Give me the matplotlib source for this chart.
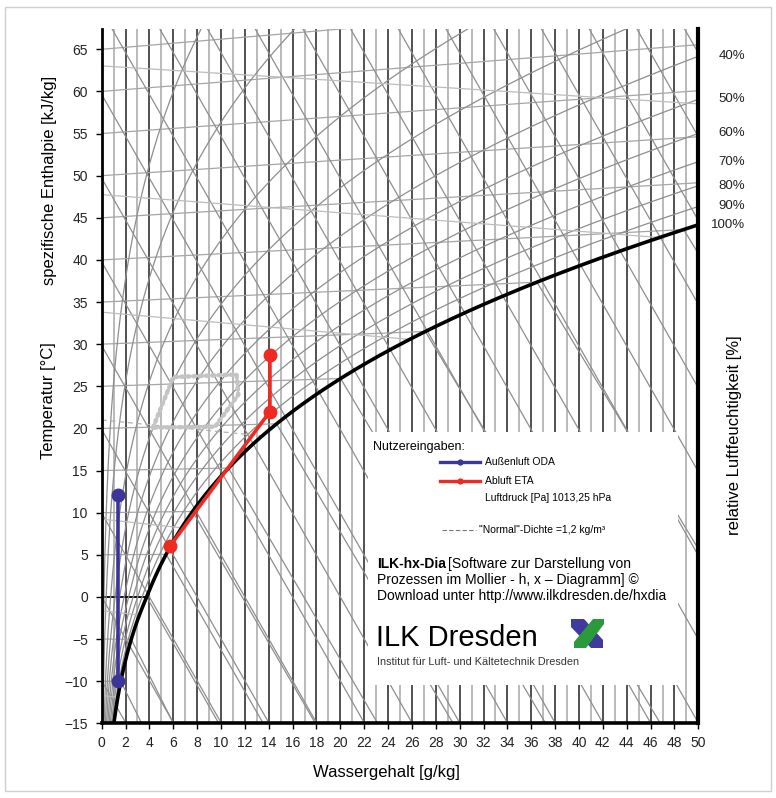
import numpy as np
import matplotlib.pyplot as plt
from matplotlib.patches import Rectangle, Polygon

plt.rcParams['font.family'] = ['Liberation Sans', 'DejaVu Sans']

W, H = 776, 798          # picture size in pixels

#####################
#### Chart data #####
#####################

x_grid = np.arange(0, 51, 1)                 # Wassergehalt lines [g/kg]
x_ticks = np.arange(0, 51, 2)
y_ticks = np.arange(-15, 66, 5)
isotherms = np.arange(-15, 70, 5)            # [°C]
enthalpies = np.arange(-10, 200, 10)         # [kJ/kg]
rh_levels = [0.05, 0.1, 0.2, 0.3, 0.4, 0.5, 0.6, 0.7, 0.8, 0.9]
rh_label_levels = [0.4, 0.5, 0.6, 0.7, 0.8, 0.9, 1.0]
rh_labels = ['40%', '50%', '60%', '70%', '80%', '90%', '100%']
densities = [1.05, 1.10, 1.15, 1.25, 1.30, 1.35]   # [kg/m³]
normal_density = 1.2

# Nutzereingaben
oda_x = [1.4, 1.4]
oda_y = [-10.0, 12.1]
eta_x = [5.7, 14.1, 14.1]
eta_y = [6.0, 22.0, 28.7]
comfort_x = [4.3, 6.0, 11.3, 11.45, 9.5, 4.3]
comfort_y = [20.1, 26.1, 26.4, 24.0, 20.2, 20.1]

###################
#### Functions ####
###################

P = 101325.0

def p_sat(t):
    t = np.asarray(t, float)
    return np.where(t >= 0, 611.2*np.exp(17.62*t/(243.12+t)),
                    611.2*np.exp(22.46*t/(272.62+t)))

def x_of(t, phi):                       # g/kg
    pv = phi*p_sat(t)
    return 622.0*pv/(P - pv)

def y_of(t, x):                         # skewed Mollier ordinate
    return t*(1 + 1.86*np.asarray(x)/1000/1.006)

def y_of_h(h, x):
    return (h - 2.501*np.asarray(x))/1.006

def rh_curve(phi):
    ts = np.linspace(-30, 95, 1500)
    ts = ts[phi*p_sat(ts) < 0.6*P]
    xr = x_of(ts, phi)
    return xr, y_of(ts, xr)

def fig_xy(xp, yp):                     # pixel -> figure fraction
    return xp/W, 1 - yp/H

######################
#### Main Program ####
######################

fig = plt.figure(figsize=(W/100, H/100), dpi=100)
ax = fig.add_axes([101.7/W, 1 - 723.3/H, (698.3-101.7)/W, (723.3-29)/H])
ax.set_xlim(0, 50)
ax.set_ylim(-15, 65 + (49.3-29)/8.425)

# vertical water content lines
for xv in x_grid:
    if xv % 2 == 0:
        ax.axvline(xv, color='#3c3c3c', lw=1.25, zorder=1)
    else:
        ax.axvline(xv, color='#b4b4b4', lw=1.3, zorder=1)

xs = np.linspace(0, 50, 600)
grey = '#8e8e8e'

# isotherms (unsaturated part) and fog isotherms
for t in isotherms:
    xsat = float(x_of(t, 1.0))
    xi = xs[xs <= xsat]
    col, lw = ('#111111', 1.4) if t == 0 else ('#a6a6a6', 0.9)
    ax.plot(xi, y_of(t, xi), color=col, lw=lw, zorder=2)
    if xsat < 50:
        hs = 1.006*t + xsat/1000*(2501 + 1.86*t)
        slope = 4.19*t if t >= 0 else (-333.5 + 2.05*t)
        xf = np.array([xsat, 50.0])
        hf = hs + (xf - xsat)/1000*slope
        ax.plot(xf, y_of_h(hf, xf), color=grey, lw=0.9, zorder=2)

# enthalpy lines
for h in enthalpies:
    ax.plot([0, 50], y_of_h(h, np.array([0, 50])), color=grey, lw=0.9, zorder=2)

# relative humidity lines
for phi in rh_levels:
    xr, yr = rh_curve(phi)
    ax.plot(xr, yr, color=grey, lw=0.9, zorder=2)

# density lines
def density_line(rho):
    T = P/(287.05*rho)*(1 + xs/1000)/(1 + 1.608*xs/1000)
    t = T - 273.15
    yd = y_of(t, xs)
    return np.where(xs <= x_of(t, 1.0), yd, np.nan)

for rho in densities:
    ax.plot(xs, density_line(rho), color='#bdbdbd', lw=0.9, zorder=2)
ax.plot(xs, density_line(normal_density), color='#b0b0b0', lw=0.9,
        ls=(0, (4, 3)), zorder=2)

# saturation curve
xsat_c, ysat_c = rh_curve(1.0)
ax.plot(xsat_c, ysat_c, color='black', lw=2.6, zorder=6)

# comfort zone
ax.plot(comfort_x, comfort_y, color='#c4c4c4', lw=3.2, ls=(0, (0.5, 0.9)),
        dash_capstyle='round', solid_joinstyle='round', zorder=4)

# legend box (white)
ax.add_patch(Rectangle((22.3, -10.45), 48.3 - 22.3, 19.58 + 10.45,
                       facecolor='white', edgecolor='none', zorder=5))

# processes
ax.plot(oda_x, oda_y, color='#3d3499', lw=2.6, marker='o', ms=9, zorder=7)
ax.plot(eta_x, eta_y, color='#ee2a22', lw=2.6, marker='o', ms=9, zorder=7)

# RH labels on the right
for phi, lab in zip(rh_label_levels, rh_labels):
    xr, yr = rh_curve(phi)
    yl = np.interp(50, xr, yr)
    ax.text(53.9, yl, lab, ha='right', va='center', fontsize=9.5,
            color='#222222', clip_on=False)

# axes styling
ax.spines['top'].set_visible(False)
ax.spines['left'].set_linewidth(2.0)
ax.spines['bottom'].set_linewidth(2.6)
ax.spines['right'].set_linewidth(3.0)
for s in ['left', 'bottom', 'right']:
    ax.spines[s].set_zorder(8)
ax.set_xticks(x_ticks)
ax.set_yticks(y_ticks)
ax.tick_params(axis='both', direction='out', length=4, width=1,
               labelsize=10, labelcolor='#222222')
ax.tick_params(axis='y', pad=6)
ax.tick_params(axis='x', pad=5)

# axis titles
fig.text(*fig_xy(386, 773), 'Wassergehalt [g/kg]', ha='center', va='center', fontsize=12)
fig.text(*fig_xy(50, 180), 'spezifische Enthalpie [kJ/kg]', ha='center', va='center',
         rotation=90, fontsize=12)
fig.text(*fig_xy(48, 401), 'Temperatur [°C]', ha='center', va='center',
         rotation=90, fontsize=12)
fig.text(*fig_xy(735, 435), 'relative Luftfeuchtigkeit [%]', ha='center', va='center',
         rotation=90, fontsize=12)

# legend content
fig.text(*fig_xy(373, 447), 'Nutzereingaben:', va='center', fontsize=9)
for yy, col, lab in [(462, '#3d3499', 'Außenluft ODA'), (481, '#ee2a22', 'Abluft ETA')]:
    x0, y0 = fig_xy(440, yy)
    x1, _ = fig_xy(480, yy)
    xm, _ = fig_xy(460, yy)
    fig.add_artist(plt.Line2D([x0, x1], [y0, y0], color=col, lw=2.4))
    fig.add_artist(plt.Line2D([xm], [y0], color=col, marker='o', ms=3.5))
    fig.text(*fig_xy(485, yy), lab, va='center', fontsize=7.5)
fig.text(*fig_xy(485, 498), 'Luftdruck [Pa] 1013,25 hPa', va='center', fontsize=7.5)
x0, y0 = fig_xy(442, 530)
x1, _ = fig_xy(476, 530)
fig.add_artist(plt.Line2D([x0, x1], [y0, y0], color='#777777', lw=0.8, ls=(0, (4, 2))))
fig.text(*fig_xy(479, 530), '"Normal"-Dichte =1,2 kg/m³', va='center', fontsize=7.5)

renderer = fig.canvas.get_renderer()
t1 = fig.text(*fig_xy(377, 564), 'ILK-hx-Dia', va='center', fontsize=10, fontweight='bold')
bb = t1.get_window_extent(renderer)
fig.text(bb.x1/W + 2/W, 1 - 564/H, '[Software zur Darstellung von', va='center', fontsize=10)
fig.text(*fig_xy(377, 580), 'Prozessen im Mollier - h, x – Diagramm] ©', va='center', fontsize=10)
fig.text(*fig_xy(377, 596), 'Download unter http://www.ilkdresden.de/hxdia', va='center', fontsize=10)
fig.text(*fig_xy(376, 638), 'ILK Dresden', va='center', fontsize=21)
fig.text(*fig_xy(377, 662), 'Institut für Luft- und Kältetechnik Dresden', va='center',
         fontsize=7.8, color='#333333')

# logo
blue_pts = [(571, 619), (584, 619), (603, 640), (603, 648), (591, 648), (571, 627)]
green_pts = [(574, 648), (586, 648), (604, 624), (604, 619), (593, 619), (574, 642)]
fig.add_artist(Polygon([fig_xy(*p) for p in blue_pts], closed=True,
                       facecolor='#3f3a9c', edgecolor='none'))
fig.add_artist(Polygon([fig_xy(*p) for p in green_pts], closed=True,
                       facecolor='#2b9a3c', edgecolor='none'))

# outer frame
fx0, fy1 = fig_xy(5, 7)
fx1, fy0 = fig_xy(771, 791)
fig.add_artist(Rectangle((fx0, fy0), fx1 - fx0, fy1 - fy0, transform=fig.transFigure,
                         facecolor='none', edgecolor='#cfcfcf', lw=1))

fig.savefig('out.png', dpi=100)
